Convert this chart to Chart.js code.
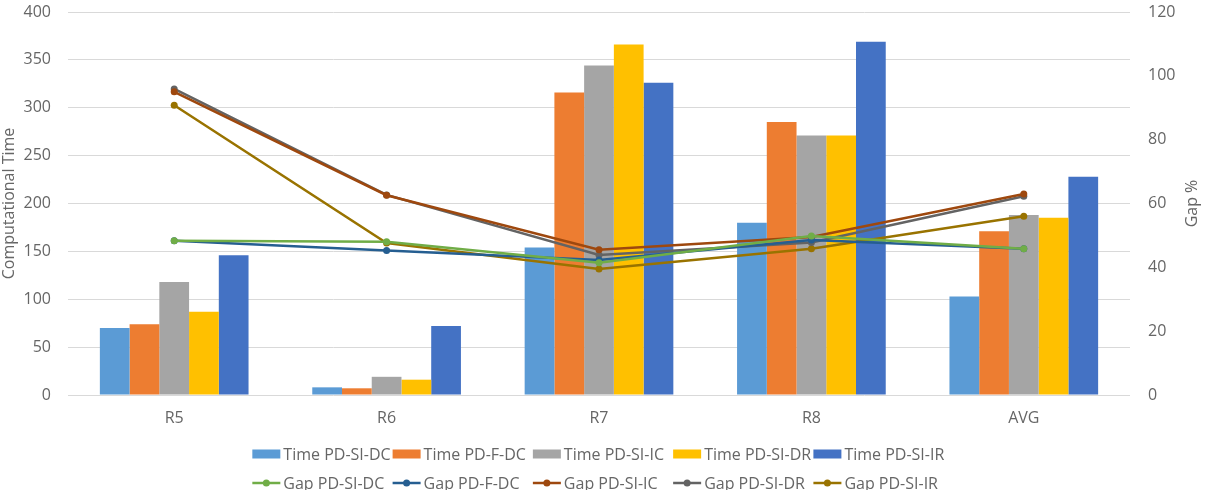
<!DOCTYPE html>
<html>
<head>
<meta charset="utf-8">
<script src="https://cdn.jsdelivr.net/npm/chart.js@4/dist/chart.umd.min.js"></script>
<style>
  html, body { margin: 0; padding: 0; background: #fff; }
  #wrap { width: 1206px; height: 490px; position: relative; }
</style>
</head>
<body>
<div id="wrap"><canvas id="chart"></canvas></div>
<script>
const categories = ['R5', 'R6', 'R7', 'R8', 'AVG'];

// computational time (left axis)
const timeSIDC = [70, 8, 154, 180, 103];
const timeFDC = [74, 7, 316, 285, 171];
const timeSIIC = [118, 19, 344, 271, 188];
const timeSIDR = [87, 16, 366, 271, 185];
const timeSIIR = [146, 72, 326, 369, 228];

// gap % (right axis)
const gapSIDC = [48.3, 48.0, 41.4, 49.8, 45.8];
const gapFDC = [48.3, 45.3, 42.3, 48.6, 45.8];
const gapSIIC = [95.0, 62.6, 45.5, 49.5, 63.0];
const gapSIDR = [95.9, 62.7, 43.9, 47.8, 62.3];
const gapSIIR = [90.8, 47.6, 39.5, 45.8, 56.0];

const leftTicks = [0, 50, 100, 150, 200, 250, 300, 350, 400];
const rightTicks = [0, 20, 40, 60, 80, 100, 120];

const txt = '#666666';
const fontFamily = "'Open Sans', 'Liberation Sans', sans-serif";
const fontSize = 16;

function bar(label, data, color) {
    return {
        type: 'bar',
        label: label,
        data: data,
        backgroundColor: color,
        borderWidth: 0,
        yAxisID: 'y',
        order: 1,
        barPercentage: 1.0,
        categoryPercentage: 0.7,
    };
}

function line(label, data, color) {
    return {
        type: 'line',
        label: label,
        data: data,
        borderColor: color,
        backgroundColor: color,
        borderWidth: 2.5,
        pointRadius: 3.5,
        pointHoverRadius: 3.5,
        pointBorderWidth: 0,
        tension: 0,
        yAxisID: 'y1',
        order: 0,
    };
}

const datasets = [
    bar('Time PD-SI-DC', timeSIDC, '#5B9BD5'),
    bar('Time PD-F-DC', timeFDC, '#ED7D31'),
    bar('Time PD-SI-IC', timeSIIC, '#A5A5A5'),
    bar('Time PD-SI-DR', timeSIDR, '#FFC000'),
    bar('Time PD-SI-IR', timeSIIR, '#4472C4'),
    line('Gap PD-SI-DC', gapSIDC, '#70AD47'),
    line('Gap PD-F-DC', gapFDC, '#255E91'),
    line('Gap PD-SI-IC', gapSIIC, '#9E480E'),
    line('Gap PD-SI-DR', gapSIDR, '#636363'),
    line('Gap PD-SI-IR', gapSIIR, '#997300'),
];

// two-row legend (equal slots, like the original) plus right axis title
const excelLegend = {
    id: 'excelLegend',
    afterDraw(chart) {
        const ctx = chart.ctx;
        ctx.save();
        ctx.font = fontSize + 'px ' + fontFamily;
        ctx.textBaseline = 'middle';
        ctx.textAlign = 'left';

        const all = chart.data.datasets;
        const rows = [all.slice(0, 5), all.slice(5)];
        const rowY = [454, 483];
        const symW = 28, gap = 3;
        const slot = Math.max(...all.map(d => symW + gap + ctx.measureText(d.label).width)) + 2;
        const startX = (chart.width - slot * 5) / 2;
        rows.forEach((items, r) => {
            const y = rowY[r];
            items.forEach((d, i) => {
                const x = startX + i * slot;
                if (d.type === 'bar') {
                    ctx.fillStyle = d.backgroundColor;
                    ctx.fillRect(x, y - 4.5, symW, 9);
                } else {
                    ctx.strokeStyle = d.borderColor;
                    ctx.lineWidth = 2.5;
                    ctx.beginPath();
                    ctx.moveTo(x, y);
                    ctx.lineTo(x + symW, y);
                    ctx.stroke();
                    ctx.fillStyle = d.borderColor;
                    ctx.beginPath();
                    ctx.arc(x + symW / 2, y, 3.5, 0, Math.PI * 2);
                    ctx.fill();
                }
                ctx.fillStyle = txt;
                ctx.fillText(d.label, x + symW + gap, y + 1);
            });
        });

        // right axis title reads bottom-to-top
        const area = chart.chartArea;
        ctx.translate(1192, (area.top + area.bottom) / 2);
        ctx.rotate(-Math.PI / 2);
        ctx.textAlign = 'center';
        ctx.fillStyle = txt;
        ctx.fillText('Gap %', 0, 0);
        ctx.restore();
    }
};

function noOverflow(scale) {
    scale.paddingTop = 0;
    scale.paddingBottom = 0;
}

new Chart(document.getElementById('chart'), {
    data: {
        labels: categories,
        datasets: datasets,
    },
    options: {
        responsive: true,
        maintainAspectRatio: false,
        animation: false,
        layout: {
            padding: { top: 12, bottom: 60, left: 0, right: 0 }
        },
        plugins: {
            legend: { display: false },
            tooltip: { enabled: false },
        },
        scales: {
            x: {
                grid: { display: false, drawTicks: false },
                border: { display: false },
                ticks: {
                    color: txt,
                    font: { size: fontSize, family: fontFamily },
                    padding: 14,
                },
                afterFit(scale) { scale.height = 35; }
            },
            y: {
                position: 'left',
                min: 0,
                max: 400,
                afterBuildTicks(scale) { scale.ticks = leftTicks.map(v => ({ value: v })); },
                grid: { color: '#d9d9d9', lineWidth: 1, drawTicks: false },
                border: { display: false },
                ticks: {
                    color: txt,
                    font: { size: fontSize, family: fontFamily },
                    padding: 17,
                },
                title: {
                    display: true,
                    text: 'Computational Time',
                    color: txt,
                    font: { size: fontSize, family: fontFamily },
                    padding: 0,
                },
                afterFit(scale) { scale.width = 68; noOverflow(scale); }
            },
            y1: {
                position: 'right',
                min: 0,
                max: 120,
                afterBuildTicks(scale) { scale.ticks = rightTicks.map(v => ({ value: v })); },
                grid: { display: false, drawTicks: false },
                border: { display: false },
                ticks: {
                    color: txt,
                    font: { size: fontSize, family: fontFamily },
                    padding: 18,
                },
                afterFit(scale) { scale.width = 76; noOverflow(scale); }
            }
        }
    },
    plugins: [excelLegend]
});
</script>
</body>
</html>
